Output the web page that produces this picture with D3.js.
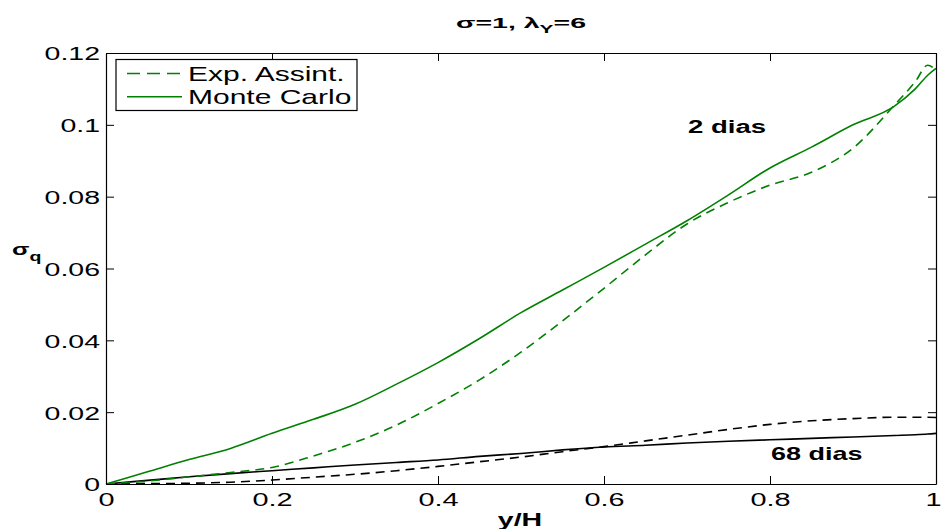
<!DOCTYPE html>
<html>
<head>
<meta charset="utf-8">
<script src="https://cdn.jsdelivr.net/npm/d3@7"></script>
<style>
  body { margin: 0; background: #fff; }
  svg { display: block; }
  text { font-family: "Liberation Sans", Arial, Helvetica, sans-serif; fill: #000; }
</style>
</head>
<body>
<svg id="chart" width="941" height="529"></svg>
<script>
// ---- data ----
const xs = [0,0.05,0.1,0.15,0.2,0.25,0.3,0.35,0.4,0.45,0.5,0.55,0.6,0.65,0.7,0.75,0.8,0.85,0.9,0.95,0.975,0.99,1];
const mc2  = [0,0.0034,0.0068,0.0099,0.0141,0.0180,0.0222,0.0278,0.0338,0.0405,0.0477,0.0540,0.0603,0.0668,0.0733,0.0805,0.0880,0.0938,0.1000,0.1052,0.1100,0.1138,0.1157];
const exp2 = [0,0.0008,0.0020,0.0032,0.0046,0.0078,0.0116,0.0164,0.0224,0.0290,0.0367,0.0454,0.0545,0.0638,0.0724,0.0784,0.0832,0.0868,0.0935,0.1055,0.1120,0.1166,0.1152];
const mc68  = [0,0.0010,0.0020,0.0029,0.0037,0.0045,0.0053,0.0060,0.0067,0.0077,0.0085,0.0095,0.0103,0.0108,0.0114,0.0119,0.0123,0.0127,0.0131,0.0135,0.0137,0.0139,0.0141];
const exp68 = [0,0.0001,0.0002,0.0005,0.0011,0.0019,0.0027,0.0037,0.0049,0.0062,0.0075,0.0090,0.0104,0.0120,0.0136,0.0152,0.0166,0.0176,0.0182,0.0186,0.0186,0.0186,0.0185];
const xTicks = [0,0.2,0.4,0.6,0.8,1];
const xTickLabels = ["0","0.2","0.4","0.6","0.8","1"];
const yTicks = [0,0.02,0.04,0.06,0.08,0.1,0.12];
const yTickLabels = ["0","0.02","0.04","0.06","0.08","0.1","0.12"];
const legendLabels = ["Exp. Assint.","Monte Carlo"];
const curveLabels = ["2 dias","68 dias"];

// ---- layout ----
const svg = d3.select("#chart");
const L = 106, R = 936, T = 53, B = 484;
const green = "#008000";
const x = d3.scaleLinear().domain([0,1]).range([L,R]);
const y = d3.scaleLinear().domain([0,0.12]).range([B,T]);

// lines
const line = vals => d3.line().x((d,i)=>x(xs[i])).y(d=>y(d)).curve(d3.curveMonotoneX)(vals);
const series = [
  {v: exp68, c: "#000", dash: "9,6"},
  {v: mc68, c: "#000", dash: null},
  {v: exp2, c: green, dash: "9,6"},
  {v: mc2, c: green, dash: null}
];
svg.append("g").selectAll("path").data(series).join("path")
  .attr("d", d=>line(d.v))
  .attr("fill","none").attr("stroke",d=>d.c).attr("stroke-width",1.6)
  .attr("stroke-dasharray",d=>d.dash);

// axes
function styleAxis(g){ g.select(".domain").attr("stroke","#000").attr("stroke-width",1.2); g.selectAll(".tick line").attr("stroke","#000"); }
const gx = svg.append("g").attr("transform",`translate(0,${B})`)
  .call(d3.axisBottom(x).tickValues(xTicks).tickSize(-8).tickSizeOuter(0).tickFormat((d,i)=>xTickLabels[i]));
gx.selectAll("text").attr("font-size",19).attr("y",null).attr("dy",null)
  .attr("transform",(d,i)=>`translate(${i===xTicks.length-1?-3:0},22) scale(1.52,1)`);
styleAxis(gx);
const gy = svg.append("g").attr("transform",`translate(${L},0)`)
  .call(d3.axisLeft(y).tickValues(yTicks).tickSize(-8).tickSizeOuter(0).tickFormat((d,i)=>yTickLabels[i]));
gy.selectAll("text").attr("font-size",19).attr("x",null).attr("dy","0.36em")
  .attr("transform","translate(-6,0) scale(1.5,1)");
styleAxis(gy);
const gt = svg.append("g").attr("transform",`translate(0,${T})`)
  .call(d3.axisTop(x).tickValues(xTicks).tickSize(-8).tickSizeOuter(0).tickFormat(""));
styleAxis(gt);
const gr = svg.append("g").attr("transform",`translate(${R},0)`)
  .call(d3.axisRight(y).tickValues(yTicks).tickSize(-8).tickSizeOuter(0).tickFormat(""));
styleAxis(gr);

// title
const title = svg.append("text").attr("font-size",15).attr("font-weight","bold")
  .attr("text-anchor","middle").attr("transform","translate(521,28) scale(1.9,1)");
title.append("tspan").text("σ=1, λ");
title.append("tspan").attr("font-size",11).attr("dy",5).text("Y");
title.append("tspan").attr("dy",-5).text("=6");

// axis labels
svg.append("text").attr("font-size",19).attr("font-weight","bold").attr("text-anchor","middle")
  .attr("transform","translate(520,526) scale(1.5,1)").text("y/H");
const yl = svg.append("text").attr("font-size",17).attr("font-weight","bold")
  .attr("transform","translate(12,255) scale(1.5,1)");
yl.append("tspan").text("σ");
yl.append("tspan").attr("font-size",13).attr("dy",6).text("q");

// curve annotations
svg.append("text").attr("font-size",19).attr("font-weight","bold")
  .attr("transform","translate(688,133) scale(1.45,1)").text(curveLabels[0]);
svg.append("text").attr("font-size",19).attr("font-weight","bold")
  .attr("transform","translate(771,460) scale(1.42,1)").text(curveLabels[1]);

// legend
const lg = svg.append("g");
lg.append("rect").attr("x",116).attr("y",59.5).attr("width",241).attr("height",51)
  .attr("fill","#fff").attr("stroke","#000").attr("stroke-width",1.2);
const rows = [{dash:"13,7"},{dash:null}];
rows.forEach((r,i)=>{
  const yy = 73.5 + i*23.3;
  lg.append("line").attr("x1",127).attr("x2",182).attr("y1",yy).attr("y2",yy)
    .attr("stroke",green).attr("stroke-width",1.6).attr("stroke-dasharray",r.dash);
  lg.append("text").attr("font-size",20).attr("dy","0.36em")
    .attr("transform",`translate(188,${yy}) scale(1.5,1)`).text(legendLabels[i]);
});
</script>
</body>
</html>
